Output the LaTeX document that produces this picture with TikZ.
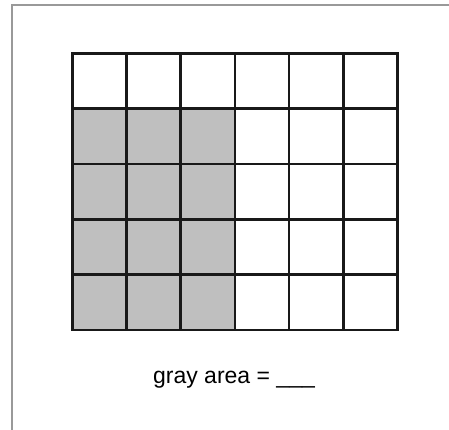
\documentclass[tikz,border=0pt]{standalone}
\usepackage{fontspec}
\setmainfont{Liberation Sans}
\begin{document}
\begin{tikzpicture}[x=1pt,y=-1pt,
  gridline/.style={line width=2.6pt,draw=black!90,line cap=rect},
  frameline/.style={line width=1.4pt,draw=black!40},
  grayfill/.style={fill=black!25},
  lbl/.style={font=\fontsize{23}{26}\selectfont,anchor=base,inner sep=0pt}]
\useasboundingbox (0,0) rectangle (449,430);
\fill[white] (0,0) rectangle (449,430);
% frame (only top and left visible)
\draw[frameline] (12,440) -- (12,5) -- (460,5);
% grid geometry
\def\gx{72.3}\def\gy{53.3}\def\cw{54.2}\def\rh{55.3}
\fill[grayfill] (\gx,\gy+\rh) rectangle (\gx+3*\cw,\gy+5*\rh);
\foreach \i in {0,...,6} {
  \draw[gridline] (\gx+\i*\cw,\gy) -- (\gx+\i*\cw,\gy+5*\rh);
}
\foreach \j in {0,...,5} {
  \draw[gridline] (\gx,\gy+\j*\rh) -- (\gx+6*\cw,\gy+\j*\rh);
}
\node[lbl] (label) at (234,383) {gray area = \_\_\_};
\end{tikzpicture}
\end{document}
